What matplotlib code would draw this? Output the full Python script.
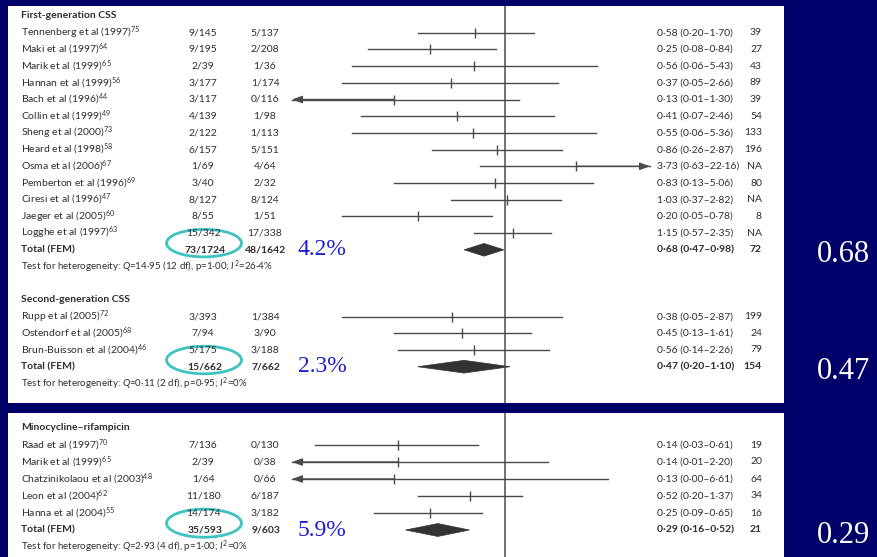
import matplotlib
matplotlib.use("Agg")
import matplotlib.pyplot as plt
from matplotlib.patches import Ellipse, Polygon
from matplotlib.transforms import blended_transform_factory

plt.rcParams['font.family'] = ['Lato', 'DejaVu Sans']
plt.rcParams['mathtext.fontset'] = 'custom'
plt.rcParams['mathtext.rm'] = 'Lato'
plt.rcParams['mathtext.it'] = 'Lato:italic'
plt.rcParams['mathtext.bf'] = 'Lato:bold'
plt.rcParams['mathtext.default'] = 'regular'

# ---- data ----
first_names = ["Tennenberg et al (1997)", "Maki et al (1997)", "Marik et al (1999)", "Hannan et al (1999)",
               "Bach et al (1996)", "Collin et al (1999)", "Sheng et al (2000)", "Heard et al (1998)",
               "Osma et al (2006)", "Pemberton et al (1996)", "Ciresi et al (1996)", "Jaeger et al (2005)",
               "Logghe et al (1997)"]
first_refs = ["75", "64", "65", "56", "44", "49", "73", "58", "67", "69", "47", "60", "63"]
first_treat = ["9/145", "9/195", "2/39", "3/177", "3/117", "4/139", "2/122", "6/157", "1/69", "3/40",
               "8/127", "8/55", "15/342"]
first_ctrl = ["5/137", "2/208", "1/36", "1/174", "0/116", "1/98", "1/113", "5/151", "4/64", "2/32",
              "8/124", "1/51", "17/338"]
first_rr = [0.58, 0.25, 0.56, 0.37, 0.13, 0.41, 0.55, 0.86, 3.73, 0.83, 1.03, 0.20, 1.15]
first_lo = [0.20, 0.08, 0.06, 0.05, 0.01, 0.07, 0.06, 0.26, 0.63, 0.13, 0.37, 0.05, 0.57]
first_hi = [1.70, 0.84, 5.43, 2.66, 1.30, 2.46, 5.36, 2.87, 22.16, 5.06, 2.82, 0.78, 2.35]
first_wt = ["39", "27", "43", "89", "39", "54", "133", "196", "NA", "80", "NA", "8", "NA"]
first_total = ["73/1724", "48/1642", 0.68, 0.47, 0.98, "72"]
first_het = r"Test for heterogeneity: $\mathit{Q}$=14·95 (12 df), p=1·00; $\mathit{I}^2$=26·4%"

second_names = ["Rupp et al (2005)", "Ostendorf et al (2005)", "Brun-Buisson et al (2004)"]
second_refs = ["72", "68", "46"]
second_treat = ["3/393", "7/94", "5/175"]
second_ctrl = ["1/384", "3/90", "3/188"]
second_rr = [0.38, 0.45, 0.56]
second_lo = [0.05, 0.13, 0.14]
second_hi = [2.87, 1.61, 2.26]
second_wt = ["199", "24", "79"]
second_total = ["15/662", "7/662", 0.47, 0.20, 1.10, "154"]
second_het = r"Test for heterogeneity: $\mathit{Q}$=0·11 (2 df), p=0·95; $\mathit{I}^2$=0%"

mino_names = ["Raad et al (1997)", "Marik et al (1999)", "Chatzinikolaou et al (2003)",
              "Leon et al (2004)", "Hanna et al (2004)"]
mino_refs = ["70", "65", "48", "62", "55"]
mino_treat = ["7/136", "2/39", "1/64", "11/180", "14/174"]
mino_ctrl = ["0/130", "0/38", "0/66", "6/187", "3/182"]
mino_rr = [0.14, 0.14, 0.13, 0.52, 0.25]
mino_lo = [0.03, 0.01, 0.00, 0.20, 0.09]
mino_hi = [0.61, 2.20, 6.61, 1.37, 0.65]
mino_wt = ["19", "20", "64", "34", "16"]
mino_total = ["35/593", "9/603", 0.29, 0.16, 0.52, "21"]
mino_het = r"Test for heterogeneity: $\mathit{Q}$=2·93 (4 df), p=1·00; $\mathit{I}^2$=0%"

rates = ["4.2%", "2.3%", "5.9%"]
pooled = ["0.68", "0.47", "0.29"]

# ---- layout ----
W, H = 877, 557
NAVY = "#000068"
TXT = "#2e2e2e"
LN = "#4a4a4a"
X_ONE, PPD = 505, 125.0          # pixel of RR=1, pixels per decade
CLIP_LO = 10 ** ((292 - X_ONE) / PPD)
CLIP_HI = 10 ** ((650 - X_ONE) / PPD)

fig = plt.figure(figsize=(W / 100, H / 100), dpi=100, facecolor=NAVY)


def fmt(v):
    return f"{v:.2f}".replace(".", "·")


def ci_text(rr, lo, hi):
    return f"{fmt(rr)} ({fmt(lo)}–{fmt(hi)})"


def make_panel(top, bottom, row0, step):
    ax = fig.add_axes([8 / W, 1 - bottom / H, 776 / W, (bottom - top) / H])
    ax.set_facecolor("white")
    ax.set_xscale("log")
    ax.set_xlim(10 ** ((8 - X_ONE) / PPD), 10 ** ((784 - X_ONE) / PPD))
    ax.set_ylim((bottom - row0) / step, (top - row0) / step)
    for s in ax.spines.values():
        s.set_visible(False)
    ax.set_xticks([])
    ax.set_yticks([])
    ax.minorticks_off()
    ax.axvline(1, color=LN, lw=1.1)
    return ax


def group(ax, r, title, names, refs, treat, ctrl, rr, lo, hi, wt, total, het, rate, pool):
    tr = blended_transform_factory(fig.transFigure, ax.transData)
    fs = 7.5
    ax.text(21 / W, r, title, transform=tr, fontsize=fs, fontweight="bold", color=TXT, va="center")
    for i in range(len(names)):
        y = r + 1 + i
        ax.text(21 / W, y, f"{names[i]}$^{{{refs[i]}}}$", transform=tr, fontsize=fs, color=TXT, va="center")
        ax.text(203 / W, y, treat[i], transform=tr, fontsize=fs, color=TXT, va="center", ha="center")
        ax.text(265 / W, y, ctrl[i], transform=tr, fontsize=fs, color=TXT, va="center", ha="center")
        ax.text(657 / W, y, ci_text(rr[i], lo[i], hi[i]), transform=tr, fontsize=fs, color=TXT, va="center")
        ax.text(762 / W, y, wt[i], transform=tr, fontsize=fs, color=TXT, va="center", ha="right")
        a, b = max(lo[i], CLIP_LO), min(hi[i], CLIP_HI)
        ax.plot([a, b], [y, y], color=LN, lw=1)
        ax.plot(rr[i], y, marker="|", ms=7, mew=1, color=LN)
        if lo[i] < CLIP_LO:
            ax.annotate("", xy=(CLIP_LO, y), xytext=(rr[i], y),
                        arrowprops=dict(arrowstyle="-|>,head_length=0.6,head_width=0.22",
                                        color=LN, lw=1, shrinkA=0, shrinkB=0))
        if hi[i] > CLIP_HI:
            ax.annotate("", xy=(CLIP_HI, y), xytext=(rr[i], y),
                        arrowprops=dict(arrowstyle="-|>,head_length=0.6,head_width=0.22",
                                        color=LN, lw=1, shrinkA=0, shrinkB=0))
    yt = r + 1 + len(names)
    ax.text(21 / W, yt, "Total (FEM)", transform=tr, fontsize=fs, fontweight="bold", color=TXT, va="center")
    ax.text(205 / W, yt, total[0], transform=tr, fontsize=fs, fontweight="bold", color=TXT, va="center", ha="center")
    ax.text(266 / W, yt, total[1], transform=tr, fontsize=fs, fontweight="bold", color=TXT, va="center", ha="center")
    ax.text(657 / W, yt, ci_text(total[2], total[3], total[4]), transform=tr, fontsize=fs,
            fontweight="bold", color=TXT, va="center")
    ax.text(762 / W, yt, total[5], transform=tr, fontsize=fs, fontweight="bold", color=TXT, va="center", ha="right")
    ax.add_patch(Polygon([(total[3], yt), (total[2], yt - 0.38), (total[4], yt), (total[2], yt + 0.38)],
                         closed=True, facecolor="#333333", edgecolor="#333333", lw=0.5))
    ax.text(21 / W, yt + 1, het, transform=tr, fontsize=7, color=TXT, va="center")
    ax.add_patch(Ellipse((204 / W, yt - 0.4), 75 / W, 1.65, transform=tr, fill=False,
                         edgecolor="#3ec3c0", lw=2, clip_on=False))
    ax.text(298 / W, yt, rate, transform=tr, fontsize=17, color="#1c1cd0", va="center",
            family="Liberation Serif")
    ax.text(817 / W, yt + 0.3, pool, transform=tr, fontsize=22, color="white", va="center",
            family="Liberation Serif")


ax1 = make_panel(6, 403, 16, 16.7)
group(ax1, 0, "First-generation CSS", first_names, first_refs, first_treat, first_ctrl,
      first_rr, first_lo, first_hi, first_wt, first_total, first_het, rates[0], pooled[0])
group(ax1, 17, "Second-generation CSS", second_names, second_refs, second_treat, second_ctrl,
      second_rr, second_lo, second_hi, second_wt, second_total, second_het, rates[1], pooled[1])

ax2 = make_panel(413, 557, 428, 17)
group(ax2, 0, "Minocycline–rifampicin", mino_names, mino_refs, mino_treat, mino_ctrl,
      mino_rr, mino_lo, mino_hi, mino_wt, mino_total, mino_het, rates[2], pooled[2])

fig.savefig("out.png", dpi=100, facecolor=NAVY)
